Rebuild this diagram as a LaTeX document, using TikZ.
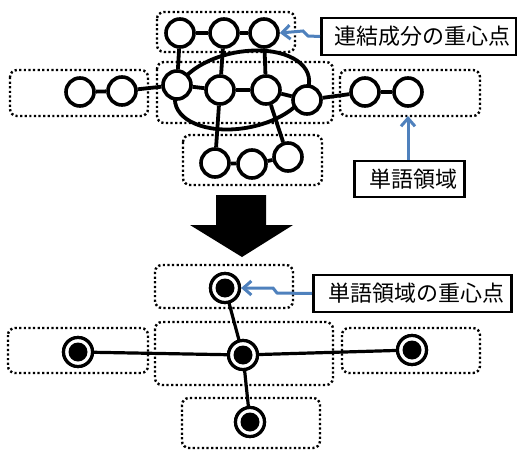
\documentclass[tikz,border=0pt]{standalone}
\usepackage{fontspec}
\newfontfamily\jpfont{Noto Sans CJK JP}
\usetikzlibrary{arrows.meta}
\definecolor{callblue}{RGB}{79,129,189}
\tikzset{
  region/.style={draw, line width=2.4pt, dash pattern=on 2.2pt off 2.4pt, rounded corners=7pt},
  vert/.style={circle, draw, fill=white, line width=3.6pt, minimum size=28pt, inner sep=0pt},
  cent/.style={circle, draw, fill=white, line width=3.2pt, minimum size=29pt, inner sep=0pt,
    path picture={\fill[black] (path picture bounding box.center) circle (9.5pt);}},
  link/.style={line width=3.8pt},
  tag/.style={draw, line width=2.6pt, fill=white, font=\jpfont\fontsize{22}{22}\selectfont,
    inner sep=0pt, anchor=west},
  callout/.style={draw=callblue, line width=3pt, -{Straight Barb[length=8pt,width=14pt,line width=3pt]}}
}
\begin{document}
\begin{tikzpicture}[x=1pt,y=-1pt]
\useasboundingbox (0,0) rectangle (517,452);

% word regions, upper graph
\draw[region] (157,12) rectangle (295,52);
\draw[region] (10,70) rectangle (148,116);
\draw[region] (157,62) rectangle (333,123);
\draw[region] (340,70) rectangle (480,116);
\draw[region] (183,135) rectangle (322,185);

% connected component outline, slightly tilted
\draw[link, rotate around={11:(242,90)}] (242,90) ellipse (68pt and 38pt);

% vertices
\node[vert] (t1) at (180,33) {};
\node[vert] (t2) at (224,33) {};
\node[vert] (t3) at (264,33) {};
\node[vert] (l1) at (80,92) {};
\node[vert] (l2) at (122,91) {};
\node[vert] (c1) at (177,85) {};
\node[vert] (c2) at (220,90) {};
\node[vert] (c3) at (266,90) {};
\node[vert] (c4) at (307,100) {};
\node[vert] (r1) at (365,92) {};
\node[vert] (r2) at (408,92) {};
\node[vert] (b1) at (215,163) {};
\node[vert] (b2) at (252,164) {};
\node[vert] (b3) at (288,157) {};

% edges
\foreach \a/\b in {t1/t2,t2/t3,t1/c1,t2/c2,t3/c3,l1/l2,l2/c1,c1/c2,c2/c3,c3/c4,c4/r1,r1/r2,c2/b1,c3/b3,b1/b2,b2/b3}
  \draw[link] (\a) -- (\b);

% labels, upper graph
\node[tag, minimum width=195pt, minimum height=37pt] (lab1) at (320,36.5) {\hspace*{8pt}連結成分の重心点\hfill};
\coordinate (k1) at (308,36);
\coordinate (k2) at (303,31);
\draw[callout] (lab1.west) -- (k1) -- (k2) -- (t3.east);

\node[tag, minimum width=110pt, minimum height=36pt] (lab2) at (353,179) {\hspace*{8pt}単語領域\hfill};
\coordinate (rr) at (408,116);
\draw[callout] (lab2.north west -| rr) -- (rr);

% transformation arrow
\fill[black] (216,195) -- (266,195) -- (266,225) -- (293,225) -- (242,257) -- (190,225) -- (216,225) -- cycle;

% word regions, lower graph
\draw[region] (155,265) rectangle (293,308);
\draw[region] (8,328) rectangle (148,373);
\draw[region] (155,322) rectangle (333,385);
\draw[region] (342,328) rectangle (480,373);
\draw[region] (182,398) rectangle (320,448);

% region centroids
\node[cent] (n) at (225,288) {};
\node[cent] (w) at (78,352) {};
\node[cent] (m) at (243,355) {};
\node[cent] (e) at (412,350) {};
\node[cent] (s) at (250,422) {};

\foreach \a in {n,w,e,s}
  \draw[link, line width=3.2pt, shorten <=-1pt, shorten >=-1pt] (m) -- (\a);
\foreach \a in {n,w,m,e,s}
  \node[cent] at (\a) {};

% label, lower graph
\node[tag, minimum width=198pt, minimum height=37pt] (lab3) at (312,293.5) {\hspace*{8pt}単語領域の重心点\hfill};
\coordinate (k3) at (277,293);
\coordinate (k4) at (273,288);
\draw[callout] (lab3.west) -- (k3) -- (k4) -- (n.east);
\end{tikzpicture}
\end{document}
